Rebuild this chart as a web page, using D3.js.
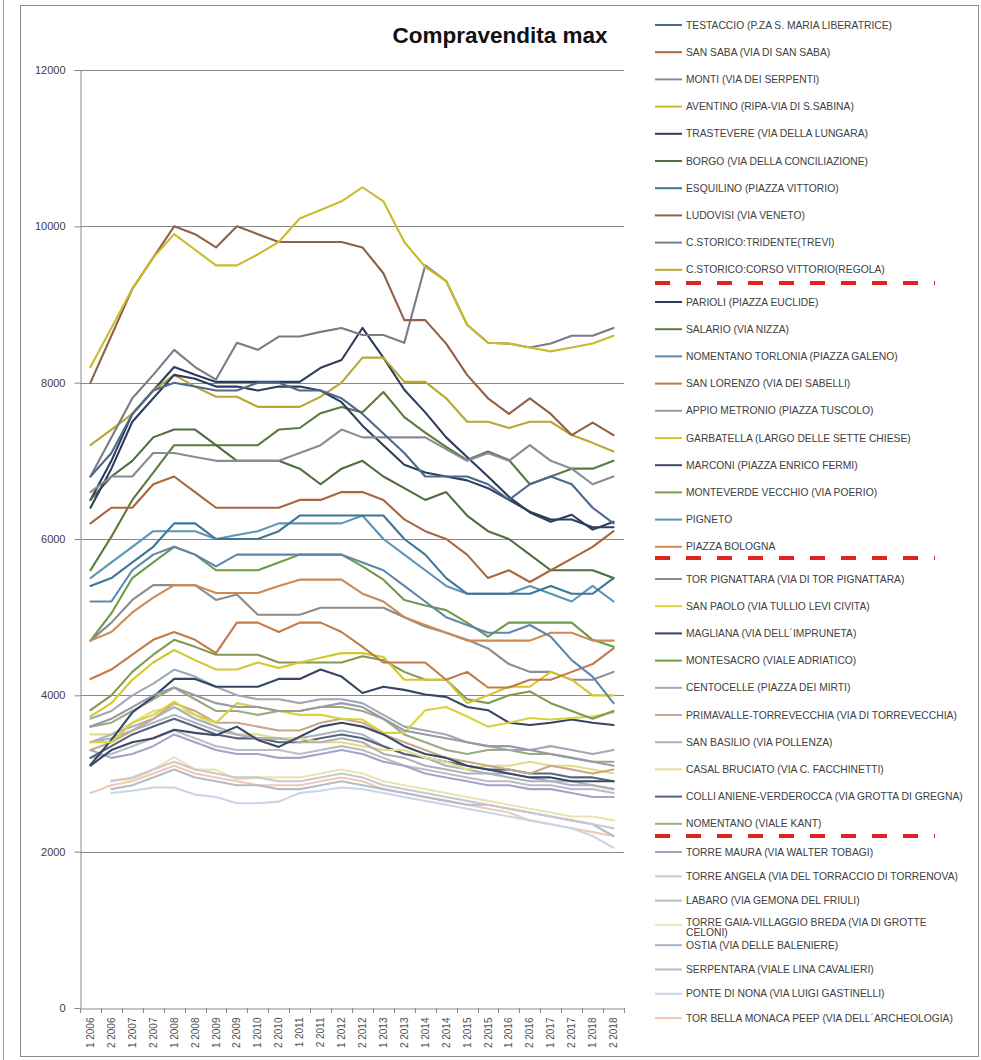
<!DOCTYPE html>
<html><head><meta charset="utf-8">
<script src="https://cdn.jsdelivr.net/npm/d3@7/dist/d3.min.js"></script>
<style>body{margin:0;background:#fff}svg{display:block}</style>
</head><body>
<svg id="chart" width="981" height="1060"></svg>
<script>
const periods = ["1 2006","2 2006","1 2007","2 2007","1 2008","2 2008","1 2009","2 2009","1 2010","2 2010","1 2011","2 2011","1 2012","2 2012","1 2013","2 2013","1 2014","2 2014","1 2015","2 2015","1 2016","2 2016","1 2017","2 2017","1 2018","2 2018"];
const yTicks = [0,2000,4000,6000,8000,10000,12000];
const title = "Compravendita max";

const names = ["TESTACCIO (P.ZA S. MARIA LIBERATRICE)","SAN SABA (VIA DI SAN SABA)","MONTI (VIA DEI SERPENTI)","AVENTINO (RIPA-VIA DI S.SABINA)","TRASTEVERE  (VIA DELLA LUNGARA)","BORGO (VIA DELLA CONCILIAZIONE)","ESQUILINO (PIAZZA VITTORIO)","LUDOVISI (VIA VENETO)","C.STORICO:TRIDENTE(TREVI)","C.STORICO:CORSO VITTORIO(REGOLA)",
"PARIOLI (PIAZZA EUCLIDE)","SALARIO (VIA NIZZA)","NOMENTANO TORLONIA (PIAZZA GALENO)","SAN LORENZO (VIA DEI SABELLI)","APPIO METRONIO (PIAZZA TUSCOLO)","GARBATELLA (LARGO DELLE SETTE CHIESE)","MARCONI (PIAZZA ENRICO FERMI)","MONTEVERDE VECCHIO (VIA POERIO)","PIGNETO","PIAZZA BOLOGNA",
"TOR PIGNATTARA (VIA DI TOR PIGNATTARA)","SAN PAOLO (VIA TULLIO LEVI CIVITA)","MAGLIANA (VIA DELL´IMPRUNETA)","MONTESACRO (VIALE ADRIATICO)","CENTOCELLE (PIAZZA DEI MIRTI)","PRIMAVALLE-TORREVECCHIA (VIA DI TORREVECCHIA)","SAN BASILIO (VIA POLLENZA)","CASAL BRUCIATO (VIA C. FACCHINETTI)","COLLI ANIENE-VERDEROCCA (VIA GROTTA DI GREGNA)","NOMENTANO (VIALE KANT)",
"TORRE MAURA (VIA WALTER TOBAGI)","TORRE ANGELA (VIA DEL TORRACCIO DI TORRENOVA)","LABARO (VIA GEMONA DEL FRIULI)","TORRE GAIA-VILLAGGIO BREDA (VIA DI GROTTE CELONI)","OSTIA (VIA DELLE BALENIERE)","SERPENTARA (VIALE LINA CAVALIERI)","PONTE DI NONA (VIA LUIGI GASTINELLI)","TOR BELLA MONACA PEEP (VIA DELL´ARCHEOLOGIA)"];

const testaccio = [6800,7100,7600,7900,8000,7950,7900,7900,8000,8000,7900,7900,7800,7600,7350,7100,6800,6800,6800,6700,6500,6700,6800,6700,6400,6200];
const sanSaba = [6200,6400,6400,6700,6800,6600,6400,6400,6400,6400,6500,6500,6600,6600,6500,6250,6100,6000,5800,5500,5600,5450,5600,5750,5900,6100];
const monti = [6600,6800,6800,7100,7100,7050,7000,7000,7000,7000,7100,7200,7400,7300,7300,7300,7300,7150,7000,7100,7000,7200,7000,6900,6700,6800];
const aventino = [8200,8700,9200,9600,9900,9700,9500,9500,9640,9800,10100,10210,10320,10500,10320,9800,9480,9300,8740,8510,8500,8450,8400,8450,8500,8600];
const trastevere = [6400,6900,7500,7800,8100,8050,7950,7950,7900,7950,7950,7900,7750,7450,7200,6950,6850,6800,6750,6650,6500,6350,6250,6250,6150,6150];
const borgo = [6500,6800,7000,7300,7400,7400,7200,7000,7000,7000,6900,6700,6900,7000,6800,6650,6500,6600,6300,6100,6000,5800,5600,5600,5600,5500];
const esquilino = [5400,5500,5700,5900,6200,6200,6000,6000,6000,6100,6300,6300,6300,6300,6300,6000,5800,5500,5300,5300,5300,5300,5400,5300,5300,5500];
const ludovisi = [8000,8600,9200,9600,10000,9900,9730,10000,9900,9800,9800,9800,9800,9730,9400,8800,8800,8500,8100,7800,7600,7800,7600,7330,7490,7330];
const tridente = [6800,7300,7800,8100,8420,8200,8040,8510,8420,8590,8590,8650,8700,8610,8610,8510,9500,9300,8740,8510,8500,8450,8500,8600,8600,8700];
const corsoVittorio = [7200,7400,7600,7900,8100,7950,7820,7820,7690,7690,7690,7820,8000,8320,8320,8010,8010,7800,7500,7500,7420,7500,7500,7330,7230,7120];
const parioli = [6500,7000,7600,7900,8200,8100,8010,8010,8010,8010,8010,8190,8290,8700,8320,7910,7620,7300,7050,6800,6540,6340,6220,6310,6120,6220];
const salario = [5600,6030,6500,6850,7200,7200,7200,7200,7200,7400,7420,7610,7690,7620,7880,7560,7360,7180,7010,7120,7010,6700,6800,6900,6900,7000];
const nomentanoTorlonia = [5200,5200,5600,5800,5900,5800,5650,5800,5800,5800,5800,5800,5800,5700,5600,5400,5200,5000,4900,4800,4800,4900,4750,4450,4240,3900];
const sanLorenzo = [4210,4330,4520,4710,4810,4710,4540,4930,4930,4810,4930,4930,4810,4620,4420,4420,4420,4200,4300,4100,4100,4200,4200,4300,4400,4600];
const appio = [3600,3700,3850,4000,4100,4000,3900,3850,3850,3800,3800,3850,3900,3850,3700,3550,3500,3450,3400,3350,3350,3300,3250,3200,3150,3100];
const garbatella = [3730,3900,4200,4420,4580,4450,4330,4330,4420,4350,4420,4480,4540,4540,4490,4200,4200,4200,3900,4000,4110,4110,4300,4200,4000,4000];
const marconi = [3100,3300,3400,3450,3560,3520,3490,3600,3430,3340,3470,3600,3650,3600,3500,3350,3250,3200,3100,3050,3000,2950,2950,2900,2900,2900];
const monteverde = [3810,4000,4300,4520,4710,4620,4520,4520,4520,4420,4420,4420,4420,4500,4450,4300,4200,4200,3950,3900,4000,4050,3900,3800,3700,3800];
const pigneto = [5500,5700,5900,6100,6100,6100,6000,6050,6100,6200,6200,6200,6200,6300,6000,5800,5600,5400,5300,5300,5300,5400,5300,5200,5400,5200];
const piazzaBologna = [4700,4810,5060,5250,5410,5410,5310,5310,5310,5400,5480,5480,5480,5300,5200,5000,4900,4800,4700,4700,4700,4700,4800,4800,4700,4700];
const torPignattara = [4700,4930,5220,5410,5410,5410,5220,5290,5030,5030,5030,5120,5120,5120,5120,5000,4880,4800,4710,4600,4400,4300,4300,4200,4200,4300];
const sanPaolo = [3400,3400,3650,3750,3920,3750,3650,3900,3850,3800,3750,3750,3700,3690,3520,3520,3810,3850,3730,3600,3650,3710,3690,3710,3730,3780];
const magliana = [3110,3430,3780,3980,4210,4210,4110,4110,4110,4210,4210,4330,4240,4030,4110,4070,4010,3980,3850,3810,3650,3620,3650,3690,3650,3620];
const montesacro = [4700,5050,5500,5700,5900,5800,5600,5600,5600,5700,5800,5800,5800,5650,5480,5220,5150,5090,4930,4750,4930,4930,4930,4930,4710,4620];
const centocelle = [3700,3800,4000,4150,4330,4240,4110,4000,3950,3950,3900,3950,3950,3900,3750,3600,3550,3500,3400,3350,3300,3300,3350,3300,3250,3300];
const primavalle = [3300,3400,3550,3700,3900,3800,3650,3650,3600,3550,3550,3650,3700,3650,3500,3400,3300,3200,3150,3100,3050,3000,3100,3050,3000,3050];
const sanBasilio = [3400,3500,3600,3700,3850,3700,3600,3500,3450,3450,3400,3400,3450,3400,3250,3200,3100,3050,3000,3000,2950,2900,2900,2900,2850,2800];
const casalBruciato = [3500,3500,3650,3800,3850,3750,3600,3500,3500,3450,3450,3400,3400,3350,3300,3300,3200,3150,3050,3100,3100,3150,3100,3100,3050,3000];
const colliAniene = [3200,3350,3500,3600,3700,3600,3500,3450,3450,3400,3400,3450,3500,3450,3350,3250,3200,3150,3100,3050,3050,3000,3000,2950,2950,2900];
const nomentanoKant = [3600,3650,3800,3950,4100,3950,3800,3800,3750,3800,3800,3850,3850,3800,3700,3500,3400,3300,3250,3300,3300,3250,3250,3200,3150,3150];
const torreMaura = [3300,3200,3250,3350,3500,3400,3300,3250,3250,3200,3200,3250,3300,3250,3150,3100,3000,2950,2900,2850,2850,2800,2800,2750,2700,2700];
const torreAngela = [null,2900,2950,3050,3150,3050,3000,2950,2950,2900,2900,2950,3000,2950,2850,2800,2750,2700,2650,2600,2550,2500,2450,2400,2350,2300];
const labaro = [3200,3250,3350,3450,3550,3450,3350,3300,3300,3300,3250,3300,3350,3300,3200,3100,3050,3000,2950,2900,2900,2850,2850,2800,2800,2750];
const torreGaia = [null,2920,2920,3050,3210,3050,3050,2920,2950,2950,2950,3000,3050,3000,2900,2850,2800,2750,2700,2650,2600,2550,2500,2450,2450,2400];
const ostia = [3400,3450,3550,3650,3750,3650,3550,3500,3450,3450,3450,3500,3550,3500,3350,3250,3200,3100,3050,3000,3000,2950,2900,2850,2850,2800];
const serpentara = [null,2800,2850,2950,3050,2950,2900,2850,2850,2800,2800,2850,2900,2850,2800,2750,2700,2650,2600,2600,2550,2500,2450,2400,2350,2200];
const ponteDiNona = [null,2750,2780,2820,2820,2730,2700,2620,2620,2640,2750,2780,2820,2800,2750,2700,2650,2600,2550,2500,2450,2400,2350,2300,2200,2050];
const torBellaMonaca = [2750,2850,2900,3000,3100,3000,2950,2900,2850,2850,2850,2900,2950,2900,2800,2750,2700,2650,2600,2550,2500,2400,2350,2300,2250,2200];

const seriesValues = [testaccio,sanSaba,monti,aventino,trastevere,borgo,esquilino,ludovisi,tridente,corsoVittorio,
  parioli,salario,nomentanoTorlonia,sanLorenzo,appio,garbatella,marconi,monteverde,pigneto,piazzaBologna,
  torPignattara,sanPaolo,magliana,montesacro,centocelle,primavalle,sanBasilio,casalBruciato,colliAniene,nomentanoKant,
  torreMaura,torreAngela,labaro,torreGaia,ostia,serpentara,ponteDiNona,torBellaMonaca];

const colors = ["#4d6a8c","#a8673f","#8a8a96","#c9bb2c","#2f3d5c","#4f6d3f","#3f7696","#8f6246","#7a7a88","#b8a832",
  "#2e3b5e","#5b7a3e","#5f86ad","#c27a48","#9a9aa6","#d3c72e","#3d4866","#7f9a52","#5b95b5","#cc8a55",
  "#8c8c8c","#d9d23a","#364469","#6f9a4a","#a0a8b8","#c8a88a","#b0b0b8","#e4dc8a","#5a6478","#9aaa86",
  "#a9a2c8","#c8c8d0","#bcbcc4","#ede3b0","#a8b4c4","#b4bcc8","#c9d6e6","#f0c8b4"];

const FONT = "Liberation Sans, Arial, sans-serif";
const svg = d3.select("#chart");
const W = 981, H = 1060;
svg.append("rect").attr("width",W).attr("height",H).attr("fill","#fff");
// outer frames
svg.append("line").attr("x1",3.5).attr("x2",3.5).attr("y1",0).attr("y2",H).attr("stroke","#9a9a9a");
svg.append("rect").attr("x",20.5).attr("y",5.5).attr("width",958).attr("height",1051).attr("fill","none").attr("stroke","#8c8c8c");

const plot = {left:80, right:624, top:70, bottom:1008};
const x = d3.scaleBand().domain(periods).range([plot.left, plot.right]);
const y = d3.scaleLinear().domain([0,12000]).range([plot.bottom, plot.top]);
const cx = p => x(p) + x.bandwidth()/2;

// gridlines
svg.append("g").selectAll("line").data(yTicks.filter(t=>t>0)).join("line")
  .attr("x1",plot.left).attr("x2",plot.right)
  .attr("y1",d=>Math.round(y(d))+0.5).attr("y2",d=>Math.round(y(d))+0.5)
  .attr("stroke","#8a8a8a").attr("stroke-width",1);

// y axis
const yAxis = d3.axisLeft(y).tickValues(yTicks).tickSize(6).tickPadding(9).tickFormat(d3.format("d"));
const gy = svg.append("g").attr("transform",`translate(${plot.left+0.5},0)`).call(yAxis);
gy.select(".domain").attr("stroke","#8a8a8a");
gy.selectAll(".tick line").attr("stroke","#8a8a8a");
gy.selectAll("text").attr("font-family",FONT).attr("font-size",11).attr("fill","#404040");

// x axis
const gx = svg.append("g").attr("transform",`translate(0,${plot.bottom+0.5})`).call(d3.axisBottom(x).tickSize(0).tickSizeOuter(0));
gx.select(".domain").attr("stroke","#8a8a8a");
gx.selectAll(".tick text")
  .attr("font-family",FONT).attr("font-size",10).attr("fill","#505050")
  .attr("transform","rotate(-90)").attr("text-anchor","end").attr("dx","-9").attr("dy","0.35em").attr("x",0).attr("y",0);
// category boundary ticks
svg.append("g").selectAll("line").data(periods.concat([null])).join("line")
  .attr("x1",(d,i)=> i<periods.length ? Math.round(x(d))+0.5 : plot.right+0.5)
  .attr("x2",(d,i)=> i<periods.length ? Math.round(x(d))+0.5 : plot.right+0.5)
  .attr("y1",plot.bottom).attr("y2",plot.bottom+5).attr("stroke","#8a8a8a");

// lines
const line = d3.line().defined(d=>d.v!=null).x(d=>cx(d.p)).y(d=>y(d.v));
const series = names.map((n,i)=>({name:n,color:colors[i],pts:periods.map((p,j)=>({p, v:seriesValues[i][j]}))}));
svg.append("g").selectAll("path").data(series.slice().reverse()).join("path")
  .attr("d",d=>line(d.pts)).attr("fill","none").attr("stroke",d=>d.color)
  .attr("stroke-width",2.1).attr("stroke-linejoin","round").attr("stroke-linecap","round");

// title
svg.append("text").attr("x",500).attr("y",43).attr("text-anchor","middle")
  .attr("font-family",FONT).attr("font-weight","bold").attr("font-size",22.5).attr("fill","#111")
  .text(title);

// legend
function legendY(i){
  if (i < 30) { const g = Math.floor(i/10); return 25 + i*27.2 + g*5; }
  const k = i - 30; return 852 + k*24.3 - (k>=4 ? 4 : 0);
}
const lg = svg.append("g");
series.forEach((s,i)=>{
  const yy = legendY(i);
  lg.append("line").attr("x1",655).attr("x2",682).attr("y1",yy).attr("y2",yy).attr("stroke",s.color).attr("stroke-width",2);
  const t = lg.append("text").attr("x",686).attr("y",yy+3.5)
    .attr("font-family",FONT).attr("font-size",10.3).attr("fill","#404040");
  if (s.name.startsWith("TORRE GAIA")) {
    t.attr("y",yy+1);
    t.append("tspan").attr("x",686).text("TORRE GAIA-VILLAGGIO BREDA (VIA DI GROTTE");
    t.append("tspan").attr("x",686).attr("dy",10.5).text("CELONI)");
  } else t.text(s.name);
});
// red dashed separators
[283,558,836].forEach(yy=>{
  svg.append("line").attr("x1",655).attr("x2",935).attr("y1",yy).attr("y2",yy)
    .attr("stroke","#e3241e").attr("stroke-width",4).attr("stroke-dasharray","15,16");
});
</script>
</body></html>
